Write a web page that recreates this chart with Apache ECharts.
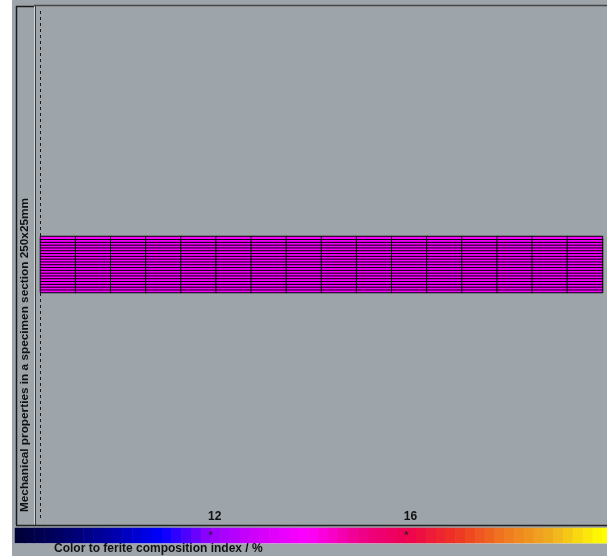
<!DOCTYPE html>
<html><head><meta charset="utf-8">
<script src="https://cdn.jsdelivr.net/npm/echarts@6/dist/echarts.min.js"></script>
<style>html,body{margin:0;padding:0;background:#fff;overflow:hidden}#c{width:607px;height:556px}</style>
</head><body><div id="c"></div>
<script>
// ---- data ----
const columns = ['1','2','3','4','5','6','7','8','9','10','11','12','13','14','15','16'];
const rows = ['1','2','3','4','5','6','7','8','9','10','11','12','13','14','15','16','17','18','19','20'];
const ferrite = [
  [13.8,13.8,13.8,13.8,13.8,13.8,13.8,13.8,13.8,13.8,13.8,13.8,13.8,13.8,13.8,13.8],
  [13.8,13.8,13.8,13.8,13.8,13.8,13.8,13.8,13.8,13.8,13.8,13.8,13.8,13.8,13.8,13.8],
  [13.8,13.8,13.8,13.8,13.8,13.8,13.8,13.8,13.8,13.8,13.8,13.8,13.8,13.8,13.8,13.8],
  [13.8,13.8,13.8,13.8,13.8,13.8,13.8,13.8,13.8,13.8,13.8,13.8,13.8,13.8,13.8,13.8],
  [13.8,13.8,13.8,13.8,13.8,13.8,13.8,13.8,13.8,13.8,13.8,13.8,13.8,13.8,13.8,13.8],
  [13.8,13.8,13.8,13.8,13.8,13.8,13.8,13.8,13.8,13.8,13.8,13.8,13.8,13.8,13.8,13.8],
  [13.8,13.8,13.8,13.8,13.8,13.8,13.8,13.8,13.8,13.8,13.8,13.8,13.8,13.8,13.8,13.8],
  [13.8,13.8,13.8,13.8,13.8,13.8,13.8,13.8,13.8,13.8,13.8,13.8,13.8,13.8,13.8,13.8],
  [13.8,13.8,13.8,13.8,13.8,13.8,13.8,13.8,13.8,13.8,13.8,13.8,13.8,13.8,13.8,13.8],
  [13.8,13.8,13.8,13.8,13.8,13.8,13.8,13.8,13.8,13.8,13.8,13.8,13.8,13.8,13.8,13.8],
  [13.8,13.8,13.8,13.8,13.8,13.8,13.8,13.8,13.8,13.8,13.8,13.8,13.8,13.8,13.8,13.8],
  [13.8,13.8,13.8,13.8,13.8,13.8,13.8,13.8,13.8,13.8,13.8,13.8,13.8,13.8,13.8,13.8],
  [13.8,13.8,13.8,13.8,13.8,13.8,13.8,13.8,13.8,13.8,13.8,13.8,13.8,13.8,13.8,13.8],
  [13.8,13.8,13.8,13.8,13.8,13.8,13.8,13.8,13.8,13.8,13.8,13.8,13.8,13.8,13.8,13.8],
  [13.8,13.8,13.8,13.8,13.8,13.8,13.8,13.8,13.8,13.8,13.8,13.8,13.8,13.8,13.8,13.8],
  [13.8,13.8,13.8,13.8,13.8,13.8,13.8,13.8,13.8,13.8,13.8,13.8,13.8,13.8,13.8,13.8],
  [13.8,13.8,13.8,13.8,13.8,13.8,13.8,13.8,13.8,13.8,13.8,13.8,13.8,13.8,13.8,13.8],
  [13.8,13.8,13.8,13.8,13.8,13.8,13.8,13.8,13.8,13.8,13.8,13.8,13.8,13.8,13.8,13.8],
  [13.8,13.8,13.8,13.8,13.8,13.8,13.8,13.8,13.8,13.8,13.8,13.8,13.8,13.8,13.8,13.8],
  [13.8,13.8,13.8,13.8,13.8,13.8,13.8,13.8,13.8,13.8,13.8,13.8,13.8,13.8,13.8,13.8]
];
const scaleSteps = [8.1,8.3,8.5,8.7,8.9,9.1,9.3,9.5,9.7,9.9,10.1,10.3,10.5,10.7,10.9,11.1,11.3,11.5,11.7,11.9,
  12.1,12.3,12.5,12.7,12.9,13.1,13.3,13.5,13.7,13.9,14.1,14.3,14.5,14.7,14.9,15.1,15.3,15.5,15.7,15.9,
  16.1,16.3,16.5,16.7,16.9,17.1,17.3,17.5,17.7,17.9,18.1,18.3,18.5,18.7,18.9,19.1,19.3,19.5,19.7,19.9,20.1];
const scaleMin = 8, scaleMax = 20.2, colorMax = 20;
const scaleColors = ['#000036','#000068','#0000a8','#0000ff','#9800ff','#d400fa','#ff00ff','#f0008e','#ee0050','#ee3322','#f07820','#f0b020','#ffff00'];
const markedTicks = [12, 16];
const yTitle = 'Mechanical properties in a specimen section 250x25mm';
const scaleTitle = 'Color to ferite composition index / %';

// ---- chart ----
const heat = [];
for (let i = 0; i < rows.length; i++) for (let j = 0; j < columns.length; j++) heat.push([j, i, ferrite[i][j]]);
const barData = scaleSteps.map((v, k) => [k, 0, v]);

const FONT = 'Liberation Sans';
const chart = echarts.init(document.getElementById('c'), null, {renderer: 'canvas'});
chart.setOption({
  backgroundColor: '#ffffff',
  animation: false,
  graphic: [
    {type: 'rect', z: -10, shape: {x: 12, y: 0, width: 600, height: 556}, style: {fill: '#9da4aa'}, silent: true},
    // outer frame
    {type: 'line', shape: {x1: 16.5, y1: 6, x2: 16.5, y2: 525}, style: {stroke: '#1a1a1a', lineWidth: 1.5}, silent: true},
    {type: 'line', shape: {x1: 16, y1: 6.5, x2: 34, y2: 6.5}, style: {stroke: '#1a1a1a', lineWidth: 1.5}, silent: true},
    {type: 'line', shape: {x1: 34.5, y1: 6, x2: 34.5, y2: 525}, style: {stroke: '#cfd3d6', lineWidth: 1}, silent: true},
    {type: 'line', shape: {x1: 35.5, y1: 6, x2: 35.5, y2: 525}, style: {stroke: '#3a3a3a', lineWidth: 1}, silent: true},
    {type: 'line', shape: {x1: 34, y1: 5.5, x2: 607, y2: 5.5}, style: {stroke: '#454545', lineWidth: 1.5}, silent: true},
    {type: 'line', shape: {x1: 16, y1: 525.5, x2: 607, y2: 525.5}, style: {stroke: '#222', lineWidth: 1.5}, silent: true},
    {type: 'line', shape: {x1: 15, y1: 543.5, x2: 607, y2: 543.5}, style: {stroke: '#c6c9cc', lineWidth: 1}, silent: true},
    // dashed guide
    {type: 'line', shape: {x1: 40.5, y1: 11, x2: 40.5, y2: 519}, style: {stroke: '#1a1a1a', lineWidth: 1, lineDash: [3, 3]}, silent: true},
    // texts
    {type: 'text', x: 25, y: 355, rotation: Math.PI / 2, silent: true,
     style: {text: yTitle, font: 'bold 11.8px "' + FONT + '"', fill: '#111', align: 'center', verticalAlign: 'middle'}},
    {type: 'text', x: 54, y: 549, silent: true,
     style: {text: scaleTitle, font: 'bold 12px "' + FONT + '"', fill: '#111', align: 'left', verticalAlign: 'middle'}}
  ],
  visualMap: {type: 'continuous', show: false, min: scaleMin, max: colorMax, seriesIndex: [0, 1], inRange: {color: scaleColors}},
  grid: [
    {left: 40.5, top: 236.5, width: 562, height: 56, outerBoundsMode: 'none'},
    {left: 15, top: 528, width: 597, height: 15, outerBoundsMode: 'none'}
  ],
  xAxis: [
    {type: 'category', gridIndex: 0, data: columns, show: false},
    {type: 'category', gridIndex: 1, data: scaleSteps.map(String), show: false},
    {type: 'value', gridIndex: 1, min: scaleMin, max: scaleMax, interval: 4, position: 'top',
     axisLine: {show: false}, axisTick: {show: false}, splitLine: {show: false},
     axisLabel: {show: true, margin: 5, padding: [0, 0, 0, 8], color: '#111', fontFamily: FONT, fontWeight: 'bold', fontSize: 12,
       formatter: v => markedTicks.indexOf(v) >= 0 ? String(v) : ''}}
  ],
  yAxis: [
    {type: 'category', gridIndex: 0, data: rows, show: false},
    {type: 'category', gridIndex: 1, data: ['s'], show: false},
    {type: 'value', gridIndex: 1, min: 0, max: 1, show: false}
  ],
  series: [
    {type: 'heatmap', xAxisIndex: 0, yAxisIndex: 0, data: heat,
     itemStyle: {borderColor: '#000', borderWidth: 1}, emphasis: {disabled: true}},
    {type: 'heatmap', xAxisIndex: 1, yAxisIndex: 1, data: barData, emphasis: {disabled: true}},
    {type: 'scatter', xAxisIndex: 2, yAxisIndex: 2, symbolSize: 0, silent: true,
     data: markedTicks.map(v => [v, 0.5]),
     label: {show: true, position: 'inside', formatter: '*', color: '#222', fontSize: 11, fontWeight: 'bold', fontFamily: FONT}}
  ]
});
</script>
</body></html>
